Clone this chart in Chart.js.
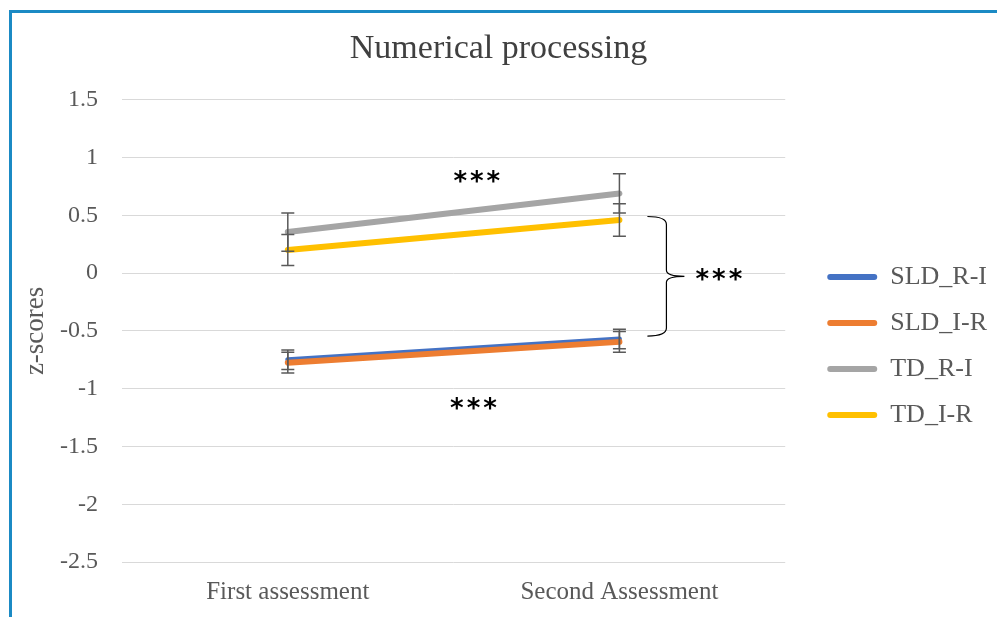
<!DOCTYPE html>
<html>
<head>
<meta charset="utf-8">
<script src="https://cdn.jsdelivr.net/npm/chart.js@4.4.1/dist/chart.umd.min.js"></script>
<style>
	body { margin: 0; background: #fff; }
	#wrap { position: relative; width: 997px; height: 617px; overflow: hidden; }
	#frame { position: absolute; left: 9px; top: 10px; width: 1100px; height: 700px; border-left: 3px solid #1b8ac4; border-top: 3px solid #1b8ac4; }
	#cnvChart { position: absolute; left: 0; top: 0; }
</style>
</head>
<body>
<div id="wrap">
	<div id="frame"></div>
	<canvas id="cnvChart" width="997" height="617"></canvas>
</div>
<script>
var categories = ["First assessment", "Second Assessment"];
var seriesNames = ["SLD_R-I", "SLD_I-R", "TD_R-I", "TD_I-R"];
var seriesColors = ["#4472c4", "#ed7d31", "#a5a5a5", "#ffc000"];

// mean z-scores and error bar half-widths
var sldRI = [-0.75, -0.57];
var sldRIErr = [0.085, 0.085];
var sldIR = [-0.775, -0.595];
var sldIRErr = [0.09, 0.09];
var tdRI = [0.355, 0.69];
var tdRIErr = [0.165, 0.17];
var tdIR = [0.2, 0.46];
var tdIRErr = [0.135, 0.14];

var yMin = -2.5, yMax = 1.5, yStep = 0.5;

// significance marks: [category position, z value, text]
var sigMarks = [[0.57, 0.81, "***"], [0.56, -1.15, "***"], [1.3, -0.04, "***"]];
// brace between groups at the second assessment: [top z, bottom z]
var braceSpan = [0.49, -0.545];

var serif = "'Liberation Serif', 'Times New Roman', serif";

var values = [sldRI, sldIR, tdRI, tdIR];
var errors = [sldRIErr, sldIRErr, tdRIErr, tdIRErr];
var widths = [5, 6, 6, 6];
var orders = [1, 0, 3, 2];

var datasets = [];
for (var i = 0; i < seriesNames.length; i++) {
	datasets.push({
		label: seriesNames[i],
		data: values[i],
		borderColor: seriesColors[i],
		backgroundColor: seriesColors[i],
		borderWidth: widths[i],
		borderCapStyle: "round",
		pointRadius: 0,
		tension: 0,
		order: orders[i]
	});
}

var extras = {
	id: "extras",
	afterDatasetsDraw: function(chart){
		var ctx = chart.ctx;
		var x = chart.scales.x, y = chart.scales.y;
		ctx.save();
		// error bars
		ctx.strokeStyle = "#595959";
		ctx.lineWidth = 1.5;
		for (var s = 0; s < values.length; s++) {
			for (var c = 0; c < categories.length; c++) {
				var px = x.getPixelForValue(c);
				var top = y.getPixelForValue(values[s][c] + errors[s][c]);
				var bot = y.getPixelForValue(values[s][c] - errors[s][c]);
				ctx.beginPath();
				ctx.moveTo(px, top); ctx.lineTo(px, bot);
				ctx.moveTo(px - 6.5, top); ctx.lineTo(px + 6.5, top);
				ctx.moveTo(px - 6.5, bot); ctx.lineTo(px + 6.5, bot);
				ctx.stroke();
			}
		}
		// brace
		var bx = x.getPixelForValue(1) + 28;
		var bt = y.getPixelForValue(braceSpan[0]);
		var bb = y.getPixelForValue(braceSpan[1]);
		var bm = (bt + bb) / 2;
		var w = 19;
		ctx.strokeStyle = "#000";
		ctx.lineWidth = 1.2;
		ctx.beginPath();
		ctx.moveTo(bx, bt);
		ctx.quadraticCurveTo(bx + w, bt, bx + w, bt + 8);
		ctx.lineTo(bx + w, bm - 6);
		ctx.quadraticCurveTo(bx + w, bm, bx + w + 18, bm);
		ctx.moveTo(bx + w + 18, bm);
		ctx.quadraticCurveTo(bx + w, bm, bx + w, bm + 6);
		ctx.lineTo(bx + w, bb - 8);
		ctx.quadraticCurveTo(bx + w, bb, bx, bb);
		ctx.stroke();
		// stars
		ctx.fillStyle = "#000";
		ctx.font = "bold 26px 'DejaVu Sans', sans-serif";
		ctx.textAlign = "center";
		ctx.textBaseline = "middle";
		if ("letterSpacing" in ctx) ctx.letterSpacing = "3px";
		sigMarks.forEach(function(m){
			var mx = x.getPixelForValue(0) + m[0] * (x.getPixelForValue(1) - x.getPixelForValue(0));
			ctx.fillText(m[2], mx + 1.5, y.getPixelForValue(m[1]) + 4);
		});
		ctx.restore();
	}
};

new Chart(document.getElementById("cnvChart").getContext("2d"), {
	type: "line",
	data: { labels: categories, datasets: datasets },
	plugins: [extras],
	options: {
		responsive: false,
		animation: false,
		layout: { padding: { left: 0, right: 0, top: 10, bottom: 11 } },
		plugins: {
			title: {
				display: true,
				text: "Numerical processing",
				color: "#404040",
				font: { family: serif, size: 34, weight: "normal" },
				padding: { top: 19, bottom: 30 }
			},
			legend: {
				position: "right",
				fullSize: false,
				title: { display: true, text: "", font: { size: 1 }, padding: { top: 29, bottom: 0 } },
				labels: {
					color: "#595959",
					font: { family: serif, size: 26 },
					boxWidth: 50,
					boxHeight: 6,
					padding: 20,
					useBorderRadius: true,
					borderRadius: 3,
					sort: function(a, b){ return a.datasetIndex - b.datasetIndex; },
					generateLabels: function(chart){
						var items = Chart.defaults.plugins.legend.labels.generateLabels(chart);
						items.forEach(function(it){ it.lineWidth = 0; it.fillStyle = it.strokeStyle; });
						return items;
					}
				}
			},
			tooltip: { enabled: false }
		},
		scales: {
			x: {
				offset: true,
				grid: { display: false, drawTicks: false },
				border: { display: false },
				ticks: { color: "#595959", font: { family: serif, size: 25 }, padding: 15, maxRotation: 0 },
				afterFit: function(scale){ scale.height = 44; }
			},
			y: {
				min: yMin,
				max: yMax,
				grid: { color: "#d9d9d9", drawTicks: false },
				border: { display: false },
				ticks: {
					stepSize: yStep,
					color: "#595959",
					padding: 24,
					font: { family: serif, size: 24 },
					callback: function(v){ return String(Number(v.toFixed(1))); }
				},
				title: {
					display: true,
					text: "z-scores",
					color: "#595959",
					font: { family: serif, size: 27 },
					padding: { top: 20, bottom: 0 }
				},
				afterFit: function(scale){ scale.width = 122; }
			},
			gap: {
				type: "linear",
				position: "right",
				display: false,
				afterFit: function(scale){ scale.width = 22; }
			}
		}
	}
});
</script>
</body>
</html>
